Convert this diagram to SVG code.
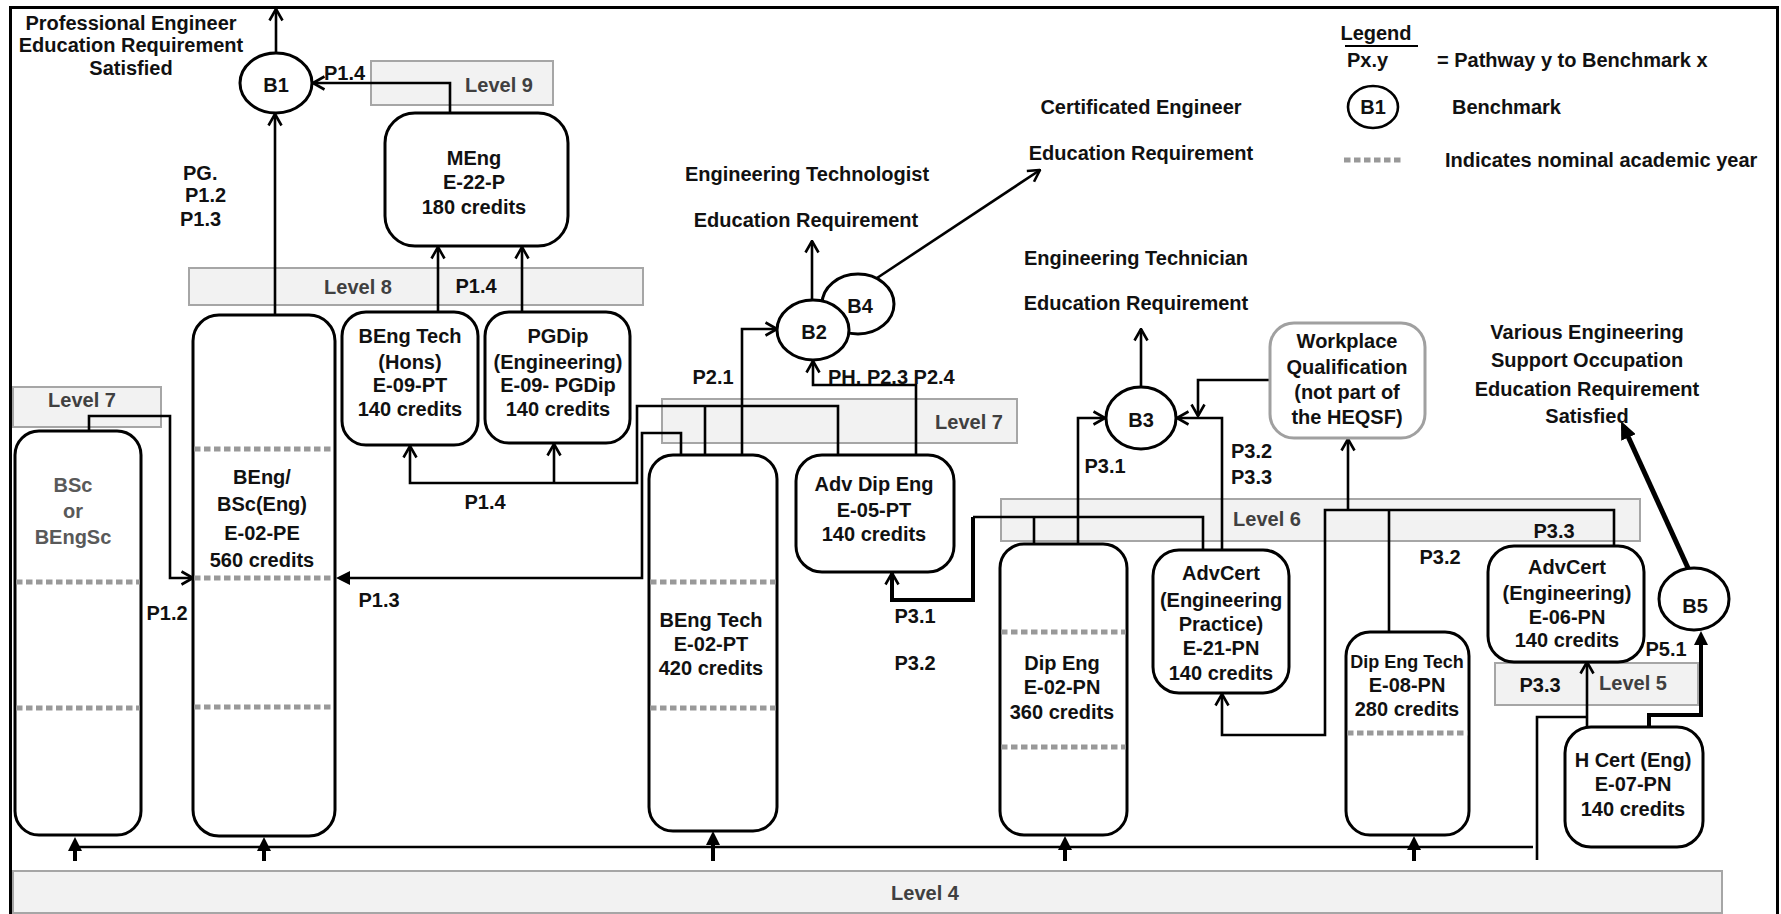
<svg xmlns="http://www.w3.org/2000/svg" width="1781" height="914" viewBox="0 0 1781 914">
<style>
text{font-family:"Liberation Sans",Arial,sans-serif;font-weight:bold;font-size:20px;fill:#111}
.c{text-anchor:middle}
.lv{fill:#f2f2f2;stroke:#a6a6a6;stroke-width:2}
.lt{fill:#404040;text-anchor:middle}
.box{fill:#fff;stroke:#000;stroke-width:3}
.wq{fill:#fff;stroke:#a0a0a0;stroke-width:3}
.bm{fill:#fff;stroke:#000;stroke-width:3}
.ln{fill:none;stroke:#000;stroke-width:2.6}
.thk{fill:none;stroke:#000;stroke-width:4}
.yr{stroke:#999;stroke-width:5;stroke-dasharray:6.5 3.5;fill:none}
.gt{fill:#595959}
</style>
<defs>
<marker id="ao" viewBox="0 0 14 16" refX="13" refY="8" markerWidth="14" markerHeight="16" markerUnits="userSpaceOnUse" orient="auto">
<path d="M1.5,1.5 L13,8 L1.5,14.5" fill="none" stroke="#000" stroke-width="2.6"/>
</marker>
<marker id="af" viewBox="0 0 14 14" refX="9" refY="7" markerWidth="14" markerHeight="14" markerUnits="userSpaceOnUse" orient="auto">
<path d="M0,0 L14,7 L0,14 z" fill="#000"/>
</marker>
<marker id="afb" viewBox="0 0 18 16" refX="12" refY="8" markerWidth="18" markerHeight="16" markerUnits="userSpaceOnUse" orient="auto">
<path d="M0,0 L18,8 L0,16 z" fill="#000"/>
</marker>
</defs>
<rect x="0" y="0" width="1781" height="914" fill="#fff"/>
<rect x="10.5" y="7.5" width="1767" height="910" fill="none" stroke="#000" stroke-width="3"/>

<g id="levels">
<rect class="lv" x="371" y="61" width="182" height="44"/>
<text class="lt" x="499" y="92">Level 9</text>
<rect class="lv" x="189" y="268" width="454" height="37"/>
<text class="lt" x="358" y="294">Level 8</text>
<rect class="lv" x="13" y="387" width="148" height="40"/>
<text class="lt" x="82" y="407">Level 7</text>
<rect class="lv" x="662" y="399" width="355" height="44"/>
<text class="lt" x="969" y="429">Level 7</text>
<rect class="lv" x="1001" y="499" width="639" height="42"/>
<text class="lt" x="1267" y="526">Level 6</text>
<rect class="lv" x="1495" y="663" width="203" height="42"/>
<text class="lt" x="1633" y="690">Level 5</text>
<rect class="lv" x="13" y="871" width="1709" height="42"/>
<text class="lt" x="925" y="900">Level 4</text>
</g>

<g id="connectors">
<path class="ln" d="M276,53 L276,9" marker-end="url(#ao)"/>
<path class="ln" d="M275,315 L275,114" marker-end="url(#ao)"/>
<path class="ln" d="M450,113 L450,83 L313,83" marker-end="url(#ao)"/>
<path class="ln" d="M438,312 L438,247" marker-end="url(#ao)"/>
<path class="ln" d="M522,312 L522,247" marker-end="url(#ao)"/>
<path class="ln" d="M838,455 L838,406 L637,406 L637,483 L410,483 L410,446" marker-end="url(#ao)"/>
<path class="ln" d="M554,483 L554,444" marker-end="url(#ao)"/>
<path class="ln" d="M705,455 L705,406"/>
<path class="ln" d="M681,455 L681,433 L642,433 L642,578 L341,578" marker-end="url(#af)"/>
<path class="ln" d="M742,455 L742,329 L777,329" marker-end="url(#ao)"/>
<path class="ln" d="M916,455 L916,385 L813,385 L813,361" marker-end="url(#ao)"/>
<path class="ln" d="M812,300 L812,241" marker-end="url(#ao)"/>
<path class="ln" d="M877,278 L1040,170" marker-end="url(#ao)"/>
<path class="ln" d="M89,431 L89,416 L170,416 L170,578 L193,578" marker-end="url(#ao)"/>
<path class="ln" d="M1203,550 L1203,517 L973,517"/>
<path class="thk" d="M973,517 L973,600 L892,600 L892,573" marker-end="url(#ao)"/>
<path class="ln" d="M1034,517 L1034,544"/>
<path class="ln" d="M1078,544 L1078,418 L1105,418" marker-end="url(#ao)"/>
<path class="ln" d="M1222,550 L1222,418 L1177,418" marker-end="url(#ao)"/>
<path class="ln" d="M1270,380 L1198,380 L1198,416" marker-end="url(#ao)"/>
<path class="ln" d="M1141,387 L1141,329" marker-end="url(#ao)"/>
<path class="ln" d="M1614,546 L1614,510 L1325,510 L1325,735 L1222,735 L1222,694" marker-end="url(#ao)"/>
<path class="ln" d="M1348,510 L1348,439" marker-end="url(#ao)"/>
<path class="ln" d="M1389,510 L1389,632"/>
<path d="M1688,568 L1623.5,426.5" fill="none" stroke="#000" stroke-width="5" marker-end="url(#afb)"/>
<path class="ln" d="M1587,727 L1587,662" marker-end="url(#ao)"/>
<path class="ln" d="M1537,860 L1537,717 L1587,717"/>
<path class="thk" d="M1649,727 L1649,715 L1701,715 L1701,636" marker-end="url(#af)"/>
<path class="ln" d="M75,847 L1533,847"/>
<path class="thk" d="M75,861 L75,842" marker-end="url(#af)"/>
<path class="thk" d="M264,861 L264,842" marker-end="url(#af)"/>
<path class="thk" d="M713,861 L713,836" marker-end="url(#af)"/>
<path class="thk" d="M1065,861 L1065,841" marker-end="url(#af)"/>
<path class="thk" d="M1414,861 L1414,841" marker-end="url(#af)"/>
</g>

<g id="n-bsc">
<rect class="box" x="15" y="431" width="126" height="404" rx="24"/>
<line class="yr" x1="16" y1="582" x2="140" y2="582"/>
<line class="yr" x1="16" y1="708" x2="140" y2="708"/>
<text class="c gt" x="73" y="492">BSc</text>
<text class="c gt" x="73" y="518">or</text>
<text class="c gt" x="73" y="544">BEngSc</text>
</g>

<g id="n-beng">
<rect class="box" x="193" y="315" width="142" height="521" rx="26"/>
<line class="yr" x1="194" y1="449" x2="334" y2="449"/>
<line class="yr" x1="194" y1="578" x2="334" y2="578"/>
<line class="yr" x1="194" y1="707" x2="334" y2="707"/>
<text class="c" x="262" y="484">BEng/</text>
<text class="c" x="262" y="511">BSc(Eng)</text>
<text class="c" x="262" y="540">E-02-PE</text>
<text class="c" x="262" y="567">560 credits</text>
</g>

<g id="n-meng">
<rect class="box" x="385" y="113" width="183" height="133" rx="30"/>
<text class="c" x="474" y="165">MEng</text>
<text class="c" x="474" y="189">E-22-P</text>
<text class="c" x="474" y="214">180 credits</text>
</g>

<g id="n-bengtechhons">
<rect class="box" x="342" y="312" width="136" height="133" rx="24"/>
<text class="c" x="410" y="343">BEng Tech</text>
<text class="c" x="410" y="369">(Hons)</text>
<text class="c" x="410" y="392">E-09-PT</text>
<text class="c" x="410" y="416">140 credits</text>
</g>

<g id="n-pgdip">
<rect class="box" x="485" y="312" width="145" height="131" rx="24"/>
<text class="c" x="558" y="343">PGDip</text>
<text class="c" x="558" y="369">(Engineering)</text>
<text class="c" x="558" y="392">E-09- PGDip</text>
<text class="c" x="558" y="416">140 credits</text>
</g>

<g id="n-bengtech">
<rect class="box" x="649" y="455" width="128" height="376" rx="24"/>
<line class="yr" x1="650" y1="582" x2="776" y2="582"/>
<line class="yr" x1="650" y1="708" x2="776" y2="708"/>
<text class="c" x="711" y="627">BEng Tech</text>
<text class="c" x="711" y="651">E-02-PT</text>
<text class="c" x="711" y="675">420 credits</text>
</g>

<g id="n-advdip">
<rect class="box" x="796" y="455" width="158" height="117" rx="26"/>
<text class="c" x="874" y="491">Adv Dip Eng</text>
<text class="c" x="874" y="517">E-05-PT</text>
<text class="c" x="874" y="541">140 credits</text>
</g>

<g id="n-dipeng">
<rect class="box" x="1000" y="544" width="127" height="291" rx="24"/>
<line class="yr" x1="1001" y1="632" x2="1126" y2="632"/>
<line class="yr" x1="1001" y1="747" x2="1126" y2="747"/>
<text class="c" x="1062" y="670">Dip Eng</text>
<text class="c" x="1062" y="694">E-02-PN</text>
<text class="c" x="1062" y="719">360 credits</text>
</g>

<g id="n-advcertprac">
<rect class="box" x="1153" y="550" width="136" height="143" rx="26"/>
<text class="c" x="1221" y="580">AdvCert</text>
<text class="c" x="1221" y="607">(Engineering</text>
<text class="c" x="1221" y="631">Practice)</text>
<text class="c" x="1221" y="655">E-21-PN</text>
<text class="c" x="1221" y="680">140 credits</text>
</g>

<g id="n-workplace">
<rect class="wq" x="1270" y="323" width="155" height="115" rx="24"/>
<text class="c" x="1347" y="348">Workplace</text>
<text class="c" x="1347" y="374">Qualification</text>
<text class="c" x="1347" y="399">(not part of</text>
<text class="c" x="1347" y="424">the HEQSF)</text>
</g>

<g id="n-dipengtech">
<rect class="box" x="1346" y="632" width="123" height="203" rx="24"/>
<line class="yr" x1="1347" y1="733" x2="1468" y2="733"/>
<text class="c" x="1407" y="668" style="font-size:18px">Dip Eng Tech</text>
<text class="c" x="1407" y="692">E-08-PN</text>
<text class="c" x="1407" y="716">280 credits</text>
</g>

<g id="n-advcerteng">
<rect class="box" x="1488" y="546" width="156" height="116" rx="26"/>
<text class="c" x="1567" y="574">AdvCert</text>
<text class="c" x="1567" y="600">(Engineering)</text>
<text class="c" x="1567" y="624">E-06-PN</text>
<text class="c" x="1567" y="647">140 credits</text>
</g>

<g id="n-hcert">
<rect class="box" x="1565" y="727" width="138" height="120" rx="26"/>
<text class="c" x="1633" y="767">H Cert (Eng)</text>
<text class="c" x="1633" y="791">E-07-PN</text>
<text class="c" x="1633" y="816">140 credits</text>
</g>

<g id="n-b1">
<ellipse class="bm" cx="276" cy="83" rx="36" ry="30"/>
<text class="c" x="276" y="92">B1</text>
</g>
<g id="n-b4">
<ellipse class="bm" cx="858" cy="304" rx="36" ry="30"/>
<text class="c" x="860" y="313">B4</text>
</g>
<g id="n-b2">
<ellipse class="bm" cx="813" cy="330" rx="36" ry="30"/>
<text class="c" x="814" y="339">B2</text>
</g>
<g id="n-b3">
<ellipse class="bm" cx="1141" cy="418" rx="35" ry="31"/>
<text class="c" x="1141" y="427">B3</text>
</g>
<g id="n-b5">
<ellipse class="bm" cx="1694" cy="599" rx="35" ry="31"/>
<text class="c" x="1695" y="613">B5</text>
</g>

<g id="outcomes">
<text class="c" x="131" y="30">Professional Engineer</text>
<text class="c" x="131" y="52">Education Requirement</text>
<text class="c" x="131" y="75">Satisfied</text>
<text class="c" x="807" y="181">Engineering Technologist</text>
<text class="c" x="806" y="227">Education Requirement</text>
<text class="c" x="1141" y="114">Certificated Engineer</text>
<text class="c" x="1141" y="160">Education Requirement</text>
<text class="c" x="1136" y="265">Engineering Technician</text>
<text class="c" x="1136" y="310">Education Requirement</text>
<text class="c" x="1587" y="339">Various Engineering</text>
<text class="c" x="1587" y="367">Support Occupation</text>
<text class="c" x="1587" y="396">Education Requirement</text>
<text class="c" x="1587" y="423">Satisfied</text>
</g>

<g id="labels">
<text x="324" y="80">P1.4</text>
<text x="183" y="180">PG.</text>
<text x="185" y="202">P1.2</text>
<text x="180" y="226">P1.3</text>
<text class="c" x="476" y="293">P1.4</text>
<text class="c" x="485" y="509">P1.4</text>
<text class="c" x="167" y="620">P1.2</text>
<text class="c" x="379" y="607">P1.3</text>
<text class="c" x="713" y="384">P2.1</text>
<text x="828" y="384">PH. P2.3 P2.4</text>
<text class="c" x="1105" y="473">P3.1</text>
<text x="1231" y="458">P3.2</text>
<text x="1231" y="484">P3.3</text>
<text class="c" x="915" y="623">P3.1</text>
<text class="c" x="915" y="670">P3.2</text>
<text class="c" x="1440" y="564">P3.2</text>
<text class="c" x="1554" y="538">P3.3</text>
<text class="c" x="1540" y="692">P3.3</text>
<text class="c" x="1666" y="656">P5.1</text>
</g>

<g id="legend">
<text class="c" x="1376" y="40">Legend</text>
<line x1="1345" y1="46" x2="1418" y2="46" stroke="#000" stroke-width="2"/>
<text x="1347" y="67">Px.y</text>
<text x="1437" y="67">= Pathway y to Benchmark x</text>
<ellipse cx="1373" cy="107" rx="25" ry="21" fill="#fff" stroke="#000" stroke-width="2.6"/>
<text class="c" x="1373" y="114">B1</text>
<text x="1452" y="114">Benchmark</text>
<line class="yr" x1="1344" y1="160" x2="1403" y2="160"/>
<text x="1445" y="167">Indicates nominal academic year</text>
</g>
</svg>
